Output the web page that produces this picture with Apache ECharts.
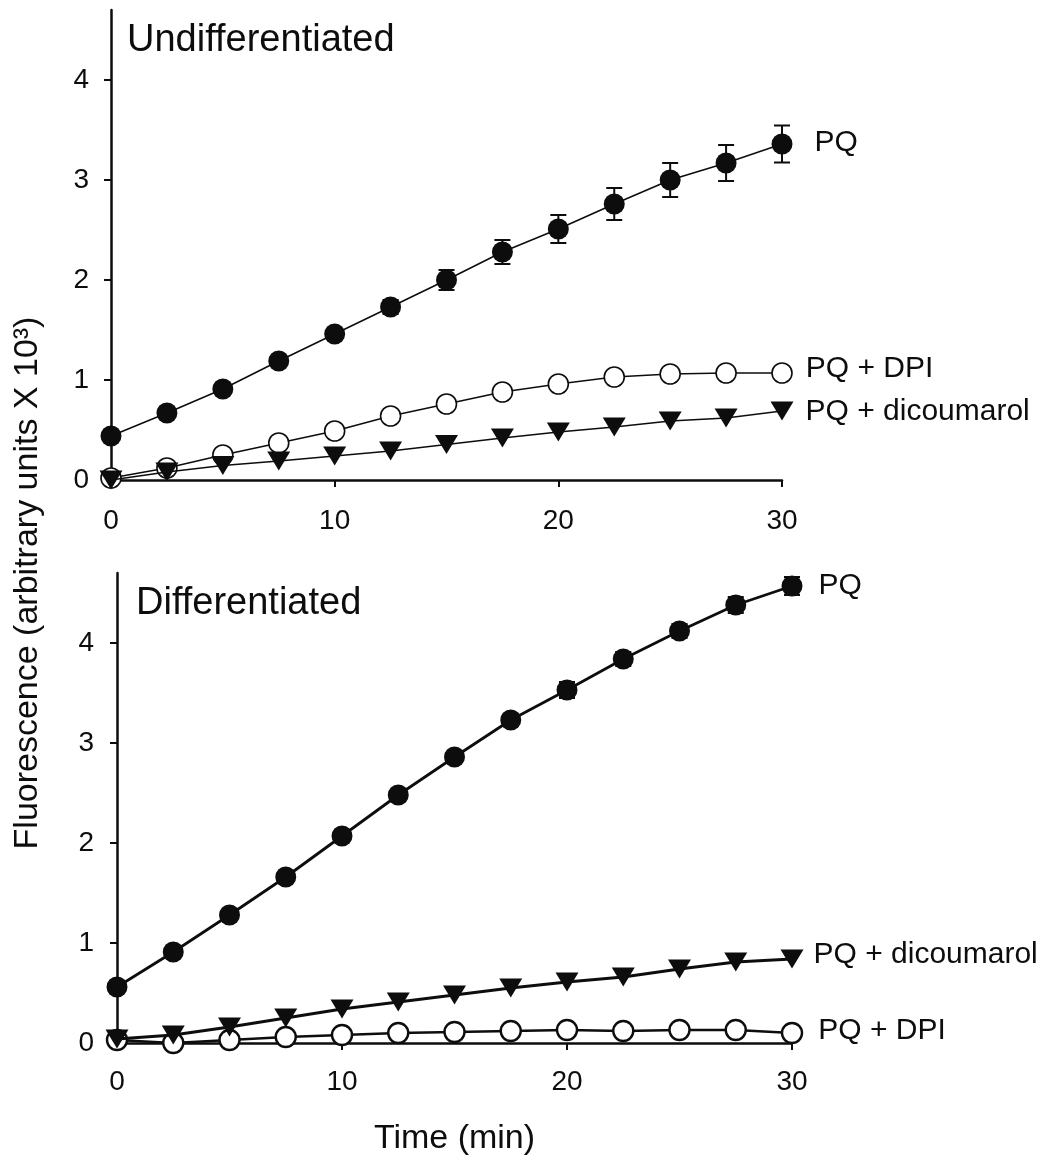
<!DOCTYPE html>
<html>
<head>
<meta charset="utf-8">
<script src="https://cdn.jsdelivr.net/npm/echarts@6/dist/echarts.min.js"></script>
<style>html,body{margin:0;padding:0;background:#fff}#c{width:1050px;height:1161px}</style>
</head>
<body>
<div id="c"></div>
<script>
// ---- data ----
const times = [0, 2.5, 5, 7.5, 10, 12.5, 15, 17.5, 20, 22.5, 25, 27.5, 30];
const xTicks = [0, 10, 20, 30];
const yTicks = [0, 1, 2, 3, 4];

// Undifferentiated (top)
const topPQ    = [0.44, 0.67, 0.91, 1.19, 1.46, 1.73, 2.00, 2.28, 2.51, 2.76, 3.00, 3.17, 3.36];
const topPQErr = [0.03, 0.03, 0.04, 0.04, 0.05, 0.07, 0.10, 0.12, 0.14, 0.16, 0.17, 0.18, 0.185];
const topDPI   = [0.02, 0.12, 0.25, 0.37, 0.49, 0.64, 0.76, 0.88, 0.96, 1.03, 1.06, 1.07, 1.07];
const topDic   = [0.00, 0.08, 0.145, 0.19, 0.24, 0.29, 0.355, 0.42, 0.48, 0.53, 0.59, 0.62, 0.69];

// Differentiated (bottom)
const botPQ    = [0.56, 0.91, 1.28, 1.66, 2.07, 2.48, 2.86, 3.23, 3.53, 3.84, 4.12, 4.38, 4.57];
const botPQErr = [0.03, 0.03, 0.03, 0.04, 0.04, 0.05, 0.05, 0.06, 0.08, 0.07, 0.07, 0.08, 0.09];
const botDic   = [0.04, 0.08, 0.16, 0.25, 0.34, 0.41, 0.48, 0.55, 0.61, 0.66, 0.74, 0.81, 0.84];
const botDPI   = [0.03, 0.00, 0.03, 0.06, 0.08, 0.10, 0.11, 0.12, 0.13, 0.12, 0.13, 0.13, 0.10];

const labelPQ = 'PQ', labelDPI = 'PQ + DPI', labelDic = 'PQ + dicoumarol';
const titleTop = 'Undifferentiated', titleBot = 'Differentiated';
const xName = 'Time (min)';
const yName = 'Fluorescence (arbitrary units X 10\u00B3)';

// ---- chart ----
const FONT = '"Liberation Sans", Arial, Helvetica, sans-serif';
const INK = '#0d0d0d';
const chart = echarts.init(document.getElementById('c'), null, {renderer: 'canvas'});

function pts(vals, lab) {
  return times.map((t, i) => {
    if (i === vals.length - 1 && lab) {
      return {value: [t, vals[i]], label: Object.assign({show: true, formatter: lab.text,
        position: 'right', fontSize: 30, fontFamily: FONT, color: INK}, lab.opt)};
    }
    return [t, vals[i]];
  });
}

function lineSeries(gi, vals, kind, lw, lab, z) {
  const s = {
    type: 'line', xAxisIndex: gi, yAxisIndex: gi,
    data: pts(vals, lab), clip: false, animation: false,
    lineStyle: {color: INK, width: lw},
    showAllSymbol: true, z: z
  };
  if (kind === 'filled') {
    s.symbol = 'circle'; s.symbolSize = 21;
    s.itemStyle = {color: INK, borderColor: INK, borderWidth: 0};
  } else if (kind === 'open') {
    s.symbol = 'circle'; s.symbolSize = 20;
    s.itemStyle = {color: '#fff', borderColor: INK, borderWidth: lw};
  } else {
    s.symbol = 'triangle'; s.symbolSize = [23, 19]; s.symbolRotate = 180;
    s.itemStyle = {color: INK, borderWidth: 0};
  }
  return s;
}

function errSeries(gi, vals, errs) {
  return {
    type: 'custom', xAxisIndex: gi, yAxisIndex: gi, animation: false, clip: false, z: 2,
    data: times.map((t, i) => [t, vals[i] - errs[i], vals[i] + errs[i]]),
    encode: {x: 0, y: [1, 2]},
    renderItem: function (params, api) {
      const x = api.value(0);
      const lo = api.coord([x, api.value(1)]);
      const hi = api.coord([x, api.value(2)]);
      const w = 8;
      const st = {stroke: INK, lineWidth: 2};
      return {type: 'group', children: [
        {type: 'line', shape: {x1: lo[0], y1: lo[1], x2: hi[0], y2: hi[1]}, style: st},
        {type: 'line', shape: {x1: lo[0] - w, y1: lo[1], x2: lo[0] + w, y2: lo[1]}, style: st},
        {type: 'line', shape: {x1: hi[0] - w, y1: hi[1], x2: hi[0] + w, y2: hi[1]}, style: st}
      ]};
    }
  };
}

function xAxis(gi, margin, withName) {
  const a = {
    type: 'value', gridIndex: gi, min: 0, max: 30, interval: 10,
    axisLine: {show: true, onZero: false, lineStyle: {color: INK, width: 2.5}},
    axisTick: {show: true, length: 7, lineStyle: {color: INK, width: 2}, customValues: xTicks},
    axisLabel: {fontSize: 28, fontFamily: FONT, color: INK, margin: margin, customValues: xTicks},
    splitLine: {show: false}
  };
  if (withName) {
    a.name = xName; a.nameLocation = 'middle'; a.nameGap = 79;
    a.nameTextStyle = {fontSize: 34, fontFamily: FONT, color: INK};
  }
  return a;
}
function yAxis(gi, margin) {
  return {
    type: 'value', gridIndex: gi, min: 0, max: 4.7, interval: 1,
    axisLine: {show: true, onZero: false, lineStyle: {color: INK, width: 2.5}},
    axisTick: {show: true, length: 7, lineStyle: {color: INK, width: 2}, customValues: yTicks},
    axisLabel: {fontSize: 28, fontFamily: FONT, color: INK, margin: margin, customValues: yTicks},
    splitLine: {show: false}
  };
}

const option = {
  backgroundColor: '#fff',
  animation: false,
  grid: [
    {left: 111, top: 10, width: 671, height: 470},
    {left: 117, top: 573, width: 675, height: 470}
  ],
  xAxis: [xAxis(0, 27, false), xAxis(1, 25, true)],
  yAxis: [yAxis(0, 22), yAxis(1, 23)],
  graphic: [
    {type: 'text', left: 127, top: 22, style: {text: titleTop, fontSize: 38, fontFamily: FONT, fill: INK}},
    {type: 'text', left: 136, top: 585, style: {text: titleBot, fontSize: 38, fontFamily: FONT, fill: INK}},
    {type: 'text', x: 28, y: 583, rotation: Math.PI / 2,
      style: {text: yName, fontSize: 34, fontFamily: FONT, fill: INK, align: 'center', verticalAlign: 'middle'}}
  ],
  series: [
    errSeries(0, topPQ, topPQErr),
    lineSeries(0, topPQ, 'filled', 1.6, {text: labelPQ, opt: {distance: 22, offset: [0, -1]}}, 3),
    lineSeries(0, topDPI, 'open', 1.6, {text: labelDPI, opt: {distance: 13, offset: [0, -4]}}, 3),
    lineSeries(0, topDic, 'tri', 1.6, {text: labelDic, opt: {distance: 12, offset: [0, 1]}}, 4),
    errSeries(1, botPQ, botPQErr),
    lineSeries(1, botPQ, 'filled', 2.8, {text: labelPQ, opt: {distance: 16, offset: [0, 0]}}, 3),
    lineSeries(1, botDPI, 'open', 2.4, {text: labelDPI, opt: {distance: 15, offset: [0, -2]}}, 3),
    lineSeries(1, botDic, 'tri', 2.8, {text: labelDic, opt: {distance: 10, offset: [0, -4]}}, 4)
  ]
};
chart.setOption(option);
</script>
</body>
</html>
